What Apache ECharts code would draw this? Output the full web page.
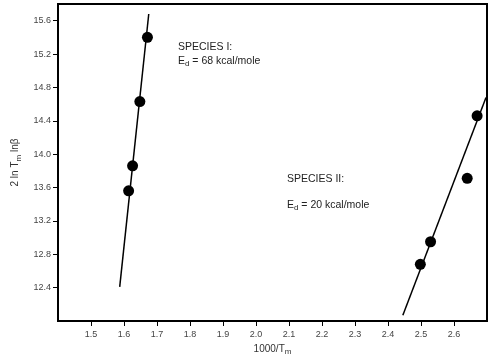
<!DOCTYPE html>
<html>
<head>
<meta charset="utf-8">
<script src="https://cdn.jsdelivr.net/npm/echarts@6/dist/echarts.min.js"></script>
<style>
  html, body { margin: 0; padding: 0; background: #fff; }
  #chart { width: 490px; height: 356px; }
</style>
</head>
<body>
<div id="chart"></div>
<script>
// measured points, species I and II
var species1 = [[1.671, 15.40], [1.648, 14.63], [1.626, 13.86], [1.614, 13.56]];
var species2 = [[2.670, 14.46], [2.640, 13.71], [2.529, 12.95], [2.498, 12.68]];
// fitted lines (end points)
var fit1 = [[1.587, 12.41], [1.675, 15.68]];
var fit2 = [[2.445, 12.07], [2.697, 14.68]];
// tick labels
var xTicks = ['1.5', '1.6', '1.7', '1.8', '1.9', '2.0', '2.1', '2.2', '2.3', '2.4', '2.5', '2.6'];
var yTicks = ['12.4', '12.8', '13.2', '13.6', '14.0', '14.4', '14.8', '15.2', '15.6'];

var font = 'Liberation Sans, Arial, sans-serif';
var subStyle = { fontSize: 8, verticalAlign: 'bottom', padding: [6, 0, 0, 0], color: '#333' };
var chart = echarts.init(document.getElementById('chart'));

chart.setOption({
  backgroundColor: '#fff',
  animation: false,
  grid: {
    left: 58, top: 4, right: 3, bottom: 35,
    outerBoundsMode: 'none',
    show: true, borderColor: '#000', borderWidth: 2
  },
  xAxis: {
    type: 'value', min: 1.4, max: 2.7, interval: 0.1,
    name: '1000/T{sub|m}',
    nameLocation: 'middle', nameGap: 21,
    nameTextStyle: { color: '#333', fontSize: 10, fontFamily: font, rich: { sub: subStyle } },
    axisLine: { lineStyle: { color: '#000', width: 2 } },
    axisTick: { inside: false, length: 5, lineStyle: { color: '#000' } },
    splitLine: { show: false },
    axisLabel: {
      color: '#444', fontSize: 9, fontFamily: font, margin: 9,
      showMinLabel: false, showMaxLabel: false,
      formatter: function (v) {
        var s = v.toFixed(1);
        return xTicks.indexOf(s) >= 0 ? s : '';
      }
    }
  },
  yAxis: {
    type: 'value', min: 12, max: 15.8, interval: 0.4,
    name: '2 ln T{sub|m} lnβ',
    nameLocation: 'middle', nameGap: 31, nameRotate: 90,
    nameTextStyle: { color: '#333', fontSize: 10, fontFamily: font, rich: { sub: subStyle } },
    axisLine: { lineStyle: { color: '#000', width: 2 } },
    axisTick: { inside: false, length: 5, lineStyle: { color: '#000' } },
    splitLine: { show: false },
    axisLabel: {
      color: '#444', fontSize: 9, fontFamily: font, margin: 7,
      showMinLabel: false, showMaxLabel: false,
      formatter: function (v) {
        var s = v.toFixed(1);
        return yTicks.indexOf(s) >= 0 ? s : '';
      }
    }
  },
  series: [
    {
      type: 'line', data: fit1, symbol: 'none', silent: true,
      lineStyle: { color: '#000', width: 1.5 }
    },
    {
      type: 'line', data: fit2, symbol: 'none', silent: true,
      lineStyle: { color: '#000', width: 1.5 }
    },
    {
      type: 'scatter', data: species1, symbolSize: 11,
      itemStyle: { color: '#000', opacity: 1 }
    },
    {
      type: 'scatter', data: species2, symbolSize: 11,
      itemStyle: { color: '#000', opacity: 1 }
    }
  ],
  graphic: [
    {
      type: 'text', left: 178, top: 40,
      style: {
        text: 'SPECIES I:\nE{sub|d} = 68 kcal/mole',
        fill: '#222', font: '10.5px ' + font, lineHeight: 14,
        rich: { sub: { fontSize: 8, verticalAlign: 'bottom', padding: [5, 0, 0, 0], fill: '#222' } }
      }
    },
    {
      type: 'text', left: 287, top: 174,
      style: { text: 'SPECIES II:', fill: '#222', font: '10.5px ' + font }
    },
    {
      type: 'text', left: 287, top: 200,
      style: {
        text: 'E{sub|d} = 20 kcal/mole',
        fill: '#222', font: '10.5px ' + font,
        rich: { sub: { fontSize: 8, verticalAlign: 'bottom', padding: [5, 0, 0, 0], fill: '#222' } }
      }
    }
  ]
});
</script>
</body>
</html>
